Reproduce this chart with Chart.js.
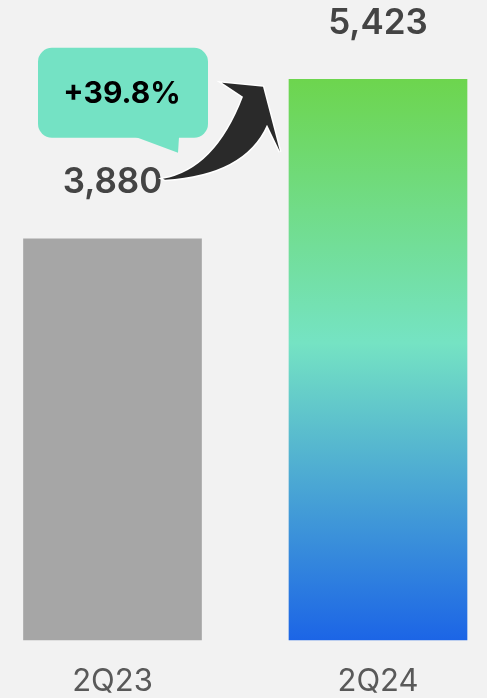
<!DOCTYPE html>
<html>
<head>
<meta charset="utf-8">
<script src="https://cdn.jsdelivr.net/npm/chart.js@4/dist/chart.umd.min.js"></script>
<style>
  html, body { margin: 0; padding: 0; background: #f2f2f2; }
  canvas { display: block; }
</style>
</head>
<body>
<canvas id="grafico" width="487" height="698"></canvas>
<script>
const trimestres = ['2Q23', '2Q24'];
const valores = [3880, 5423];

const FONTE = 'Inter, Lato, "Noto Sans", sans-serif';

// crescimento entre os dois trimestres
const crescimento = (valores[1] / valores[0] - 1) * 100;

function gradienteBarra(context) {
  const chart = context.chart;
  if (!chart.chartArea) return '#74e2c4';
  if (context.dataIndex === 0) return '#a6a6a6';
  const y = chart.scales.y;
  const topo = y.getPixelForValue(valores[context.dataIndex]);
  const base = y.getPixelForValue(0);
  const g = chart.ctx.createLinearGradient(0, topo, 0, base);
  g.addColorStop(0, '#6dd54e');
  g.addColorStop(0.47, '#75e3c3');
  g.addColorStop(1, '#1c65e6');
  return g;
}

// rótulos de valor, balão com o percentual e a seta
const anotacoes = {
  id: 'anotacoes',
  afterDatasetsDraw(chart) {
    const ctx = chart.ctx;
    const barras = chart.getDatasetMeta(0).data;
    const b1 = barras[0];

    ctx.save();
    ctx.textAlign = 'center';
    ctx.textBaseline = 'middle';
    ctx.fillStyle = '#444444';
    ctx.font = '600 35px ' + FONTE;
    barras.forEach((b, i) => {
      ctx.fillText(valores[i].toLocaleString('en-US'), b.x, b.y - 56);
    });

    // balão
    const bx = b1.x - 74.5, by = b1.y - 191, bw = 170, bh = 90;
    ctx.fillStyle = '#74e2c4';
    ctx.beginPath();
    ctx.roundRect(bx, by, bw, bh, 14);
    ctx.fill();
    ctx.beginPath();
    ctx.moveTo(bx + 97, by + bh - 1);
    ctx.lineTo(bx + 140, by + bh + 15);
    ctx.lineTo(bx + 141, by + bh - 1);
    ctx.closePath();
    ctx.fill();

    ctx.fillStyle = '#000000';
    ctx.font = '700 30px ' + FONTE;
    ctx.fillText('+' + crescimento.toFixed(1) + '%', bx + bw / 2 - 1, by + bh / 2 + 1);

    // seta curva do 2Q23 até o topo do 2Q24
    const ox = b1.x, oy = b1.y;
    const p = (dx, dy) => [ox + dx, oy + dy];
    ctx.beginPath();
    ctx.moveTo(...p(50.5, -60));
    ctx.quadraticCurveTo(...p(102.5, -69), ...p(130.5, -142));
    ctx.lineTo(...p(109.5, -156));
    ctx.lineTo(...p(150.5, -152));
    ctx.lineTo(...p(167.5, -87));
    ctx.lineTo(...p(154.5, -114));
    ctx.quadraticCurveTo(...p(132.5, -64), ...p(52.5, -59));
    ctx.closePath();
    ctx.lineJoin = 'miter';
    ctx.strokeStyle = '#ffffff';
    ctx.lineWidth = 3;
    ctx.stroke();
    ctx.fillStyle = '#2a2a2a';
    ctx.fill();
    ctx.restore();
  }
};

new Chart(document.getElementById('grafico'), {
  type: 'bar',
  data: {
    labels: trimestres,
    datasets: [{
      data: valores,
      backgroundColor: gradienteBarra,
      barThickness: 178,
      borderWidth: 0,
      clip: false
    }]
  },
  options: {
    responsive: false,
    animation: false,
    layout: {
      padding: { left: 112.5, right: 109, top: 0, bottom: 0 }
    },
    plugins: {
      legend: { display: false },
      tooltip: { enabled: false }
    },
    scales: {
      x: {
        offset: false,
        grid: { display: false, drawTicks: false },
        border: { display: false },
        ticks: {
          color: '#595959',
          font: { family: FONTE, size: 31, weight: '400' },
          padding: 23,
          maxRotation: 0
        },
        afterFit(scale) { scale.height = 58; }
      },
      y: {
        display: false,
        min: 0,
        max: 6190
      }
    }
  },
  plugins: [anotacoes]
});
</script>
</body>
</html>
